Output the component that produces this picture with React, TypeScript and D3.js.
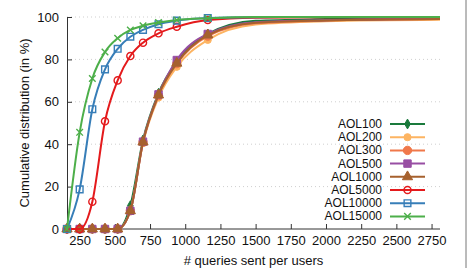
import React, { useRef, useEffect } from 'react';
import * as d3 from 'd3';

// x positions of the plotted markers, and of the unmarked tail of each curve
const markX = [160, 250, 340, 430, 520, 610, 700, 810, 940, 1160];
const tailX = [1500, 2000, 2810];

const names = ['AOL100', 'AOL200', 'AOL300', 'AOL500', 'AOL1000', 'AOL5000', 'AOL10000', 'AOL15000'];
const colors = ['#1a7a3c', '#fdb462', '#f0784a', '#984ea3', '#a6612e', '#e41a1c', '#377eb8', '#4daf4a'];

const aol100 = [0, 0, 0, 0, 0, 11, 42, 64, 79, 92];
const aol200 = [0, 0, 0, 0, 0, 8.5, 40.5, 62, 76.5, 89.2];
const aol300 = [0, 0, 0, 0, 0, 8.6, 41, 63, 78, 91];
const aol500 = [0, 0, 0, 0, 0, 8.6, 41.2, 63.5, 79.7, 92];
const aol1000 = [0, 0, 0, 0, 0, 8.6, 41, 63.2, 78.2, 91.5];
const aol5000 = [0, 0, 12.9, 50.8, 70.1, 81.6, 87.9, 92.3, 95.4, 98.6];
const aol10000 = [0, 18.7, 56.5, 75.3, 85, 90.7, 93.9, 96.6, 98.3, 99.5];
const aol15000 = [0, 45.6, 71, 83.5, 90, 93.9, 95.9, 97.4, 98.6, 99.4];

const tails = [
  [98.2, 99, 99.5],
  [96.5, 98, 98.7],
  [97, 98.3, 99],
  [97.5, 98.5, 99.2],
  [97.3, 98.4, 99.1],
  [99.7, 99.9, 100],
  [99.9, 100, 100],
  [100, 100, 100]
];

const yTicks = [0, 20, 40, 60, 80, 100];
const xTicks = [250, 500, 750, 1000, 1250, 1500, 1750, 2000, 2250, 2500, 2750];

export default function App(): JSX.Element {
  const svgRef = useRef<SVGSVGElement>(null);
  useEffect(() => {
    const el = svgRef.current;
    if (el == null) return;
    const svg = d3.select(el);
    svg.selectAll('*').remove();

    const left = 67;
    const right = 440;
    const top = 17;
    const bottom = 229;
    const font = 'Liberation Sans, Arial, sans-serif';
    const fs = '13px';

    const x = d3.scaleLinear().domain([160, 2810]).range([left, right]);
    const y = d3.scaleLinear().domain([0, 100]).range([bottom, top]);

    const series = [aol100, aol200, aol300, aol500, aol1000, aol5000, aol10000, aol15000];

    // grid
    svg
      .selectAll('.grid')
      .data(yTicks.slice(1))
      .join('line')
      .attr('x1', left)
      .attr('x2', right)
      .attr('y1', (d) => y(d))
      .attr('y2', (d) => y(d))
      .attr('stroke', '#cfcfcf')
      .attr('stroke-width', 1)
      .attr('stroke-dasharray', '1,3');

    // axes
    const yAxis = d3.axisLeft(y).tickValues(yTicks).tickSize(-5).tickPadding(8).tickFormat(d3.format('d'));
    const gy = svg.append('g').attr('transform', `translate(${left},0)`).call(yAxis);
    const xAxis = d3.axisBottom(x).tickValues(xTicks).tickSize(-5).tickPadding(7).tickFormat(d3.format('d'));
    const gx = svg.append('g').attr('transform', `translate(0,${bottom})`).call(xAxis);
    [gx, gy].forEach((g) => {
      g.select('.domain').attr('stroke', '#333').attr('stroke-width', 1);
      g.selectAll('.tick line').attr('stroke', '#333');
      g.selectAll('.tick text')
        .attr('fill', '#111')
        .style('font-family', font)
        .style('font-size', fs);
    });
    gx.select('.domain').attr('d', `M${left},0H${right}`);

    svg
      .append('text')
      .attr('transform', `translate(24,${(top + bottom) / 2}) rotate(-90)`)
      .attr('text-anchor', 'middle')
      .attr('dominant-baseline', 'central')
      .style('font-family', font)
      .style('font-size', fs)
      .attr('fill', '#111')
      .text('Cumulative distribution (in %)');

    svg
      .append('text')
      .attr('x', (left + right) / 2)
      .attr('y', 265)
      .attr('text-anchor', 'middle')
      .style('font-family', font)
      .style('font-size', fs)
      .attr('fill', '#111')
      .text('# queries sent per users');

    // right frame edge
    svg
      .append('line')
      .attr('x1', 466)
      .attr('x2', 466)
      .attr('y1', 0)
      .attr('y2', 268)
      .attr('stroke', '#777')
      .attr('stroke-width', 1);

    const symbols = [
      { type: d3.symbolDiamond, size: 28, fill: true },
      { type: d3.symbolCircle, size: 40, fill: true },
      { type: d3.symbolCircle, size: 55, fill: true },
      { type: d3.symbolSquare, size: 55, fill: true },
      { type: d3.symbolTriangle, size: 45, fill: true },
      { type: d3.symbolCircle, size: 40, fill: false },
      { type: d3.symbolSquare, size: 45, fill: false },
      { type: d3.symbolX, size: 30, fill: false }
    ];

    const line = d3
      .line<[number, number]>()
      .x((d) => x(d[0]))
      .y((d) => y(d[1]))
      .curve(d3.curveMonotoneX);

    const drawMarker = (g: any, i: number, px: number, py: number) => {
      const s = symbols[i];
      g.append('path')
        .attr('d', d3.symbol(s.type, s.size)())
        .attr('transform', `translate(${px},${py})`)
        .attr('fill', s.fill ? colors[i] : 'none')
        .attr('stroke', colors[i])
        .attr('stroke-width', s.fill ? 1 : 1.4);
    };

    series.forEach((vals, i) => {
      const pts: [number, number][] = markX.map((v, j) => [v, vals[j]] as [number, number]);
      const all = pts.concat(tailX.map((v, j) => [v, tails[i][j]] as [number, number]));
      const g = svg.append('g');
      g.append('path')
        .attr('d', line(all))
        .attr('fill', 'none')
        .attr('stroke', colors[i])
        .attr('stroke-width', 2);
      pts.forEach((p) => drawMarker(g, i, x(p[0]), y(p[1])));
    });

    // legend
    const legend = svg.append('g');
    names.forEach((n, i) => {
      const ly = 124 + i * 13.2;
      legend
        .append('text')
        .attr('x', 382)
        .attr('y', ly)
        .attr('text-anchor', 'end')
        .attr('dominant-baseline', 'central')
        .style('font-family', font)
        .style('font-size', '12px')
        .attr('fill', '#111')
        .text(n);
      legend
        .append('line')
        .attr('x1', 390)
        .attr('x2', 425)
        .attr('y1', ly)
        .attr('y2', ly)
        .attr('stroke', colors[i])
        .attr('stroke-width', 2);
      drawMarker(legend, i, 407.5, ly);
    });
  }, []);
  return (
    <svg
      ref={svgRef}
      width={470}
      height={268}
      style={{ position: 'absolute', left: 0, top: 0, background: '#fff' }}
    />
  );
}
